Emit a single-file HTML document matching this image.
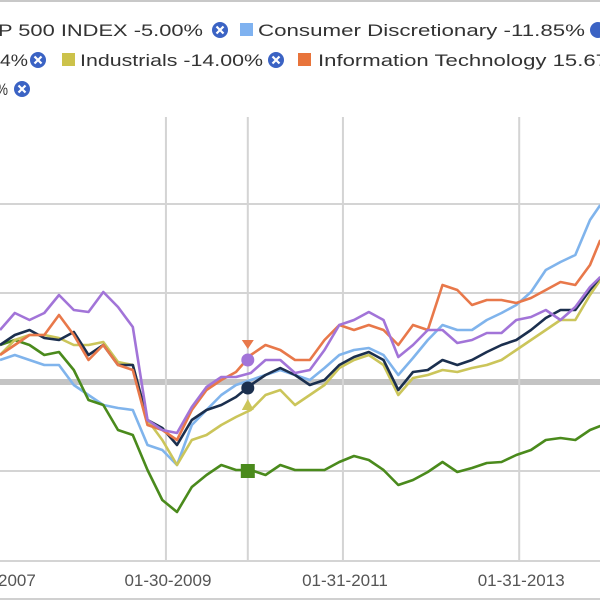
<!DOCTYPE html>
<html><head><meta charset="utf-8"><style>
html,body{margin:0;padding:0;background:#fff;}
svg{display:block;font-family:"Liberation Sans",Arial,sans-serif;}
</style></head><body>
<svg id="chart" width="600" height="600" viewBox="0 0 600 600">
  <line x1="0" y1="1" x2="600" y2="1" stroke="#c8c8c8" stroke-width="2"/>
  <g id="legend" font-size="17" fill="#333">
    <text x="-2" y="36" textLength="205" lengthAdjust="spacingAndGlyphs">P 500 INDEX -5.00%</text>
    <g><circle cx="220" cy="30" r="8" fill="#3b63c4"/><path d="M216.5 26.5l7 7M223.5 26.5l-7 7" stroke="#fff" stroke-width="2.2"/></g>
    <rect x="240" y="23" width="13" height="13" fill="#7fb2f0"/>
    <text x="258" y="36" textLength="327" lengthAdjust="spacingAndGlyphs">Consumer Discretionary -11.85%</text>
    <g><circle cx="598" cy="30" r="8" fill="#3b63c4"/></g>
    <text x="0" y="66" textLength="28" lengthAdjust="spacingAndGlyphs">4%</text>
    <g><circle cx="38" cy="60" r="8" fill="#3b63c4"/><path d="M34.5 56.5l7 7M41.5 56.5l-7 7" stroke="#fff" stroke-width="2.2"/></g>
    <rect x="62" y="53" width="13" height="13" fill="#ccc24a"/>
    <text x="80" y="66" textLength="183" lengthAdjust="spacingAndGlyphs">Industrials -14.00%</text>
    <g><circle cx="276" cy="60" r="8" fill="#3b63c4"/><path d="M272.5 56.5l7 7M279.5 56.5l-7 7" stroke="#fff" stroke-width="2.2"/></g>
    <rect x="298" y="53" width="13" height="13" fill="#e8743b"/>
    <text x="318" y="66" textLength="290" lengthAdjust="spacingAndGlyphs">Information Technology 15.67</text>
    <text x="-4" y="95" textLength="12" lengthAdjust="spacingAndGlyphs">%</text>
    <g><circle cx="22" cy="89" r="8" fill="#3b63c4"/><path d="M18.5 85.5l7 7M25.5 85.5l-7 7" stroke="#fff" stroke-width="2.2"/></g>
  </g>
  <g id="grid"></g>
  <g id="series"></g>
  <g id="xaxis"></g>
  <line x1="0" y1="599" x2="600" y2="599" stroke="#d0d0d0" stroke-width="2"/>
</svg>
<script>
// months since Mar 2007 (2-month steps)
const months = [0,2,4,6,8,10,12,14,16,18,20,22,24,26,28,30,32,34,36,38,40,42,44,46,48,50,52,54,56,58,60,62,64,66,68,70,72,74,76,78,80,81.4];
const purple = [52,69,62,69,87,72,70,90,75,55,-38,-48,-51,-25,-5,5,5,9,22,22,9,12,32,57,62,70,62,25,37,52,52,39,42,49,49,62,65,72,62,75,95,105];
const sp500 = [37,47,52,44,42,50,27,37,17,17,-38,-46,-63,-38,-28,-23,-15,-3,7,14,7,-3,2,17,25,30,22,-8,10,12,22,17,22,30,37,42,52,64,72,72,92,105];
const industrials = [27,42,47,47,44,37,37,40,20,17,-38,-58,-83,-58,-53,-43,-35,-28,-13,-8,-23,-13,-3,14,22,27,17,-13,4,7,12,10,14,17,22,32,42,52,62,62,87,102];
const infotech = [27,37,47,47,67,47,22,37,17,12,-43,-48,-58,-28,-8,2,10,27,37,32,22,22,42,57,52,57,52,37,57,52,97,92,77,82,82,79,84,92,100,97,117,142];
const consDisc = [22,27,22,17,17,-3,-13,-23,-26,-28,-63,-68,-83,-43,-28,-13,-3,2,7,12,7,2,14,27,32,34,27,7,24,42,57,52,52,62,69,77,90,112,120,127,162,177];
const green = [37,42,37,27,30,12,-18,-23,-48,-53,-88,-118,-130,-105,-93,-83,-88,-88,-93,-83,-88,-88,-88,-80,-74,-78,-88,-103,-98,-90,-80,-90,-86,-81,-80,-73,-68,-58,-56,-58,-48,-44];
const yTicks = [-89,0,89,178];
const xTickMonths = [22.5,46.5,70.4];
const xTickLabels = ["01-30-2009","01-31-2011","01-31-2013"];
const extraGridMonths = [33.6];
const markerMonth = 33.6;
const markerValues = [37,22,-6,-23,-89];

const NS="http://www.w3.org/2000/svg";
function x(m){return m*7.375;}
function y(v){return 382-v;}
function mk(tag,attrs,parent){const e=document.createElementNS(NS,tag);for(const k in attrs)e.setAttribute(k,attrs[k]);parent.appendChild(e);return e;}
const grid=document.getElementById('grid'), ser=document.getElementById('series'), xa=document.getElementById('xaxis');

yTicks.forEach(v=>{
  const l=mk('line',{x1:0,x2:600,y1:y(v),y2:y(v),stroke:v===0?'#c4c4c4':'#d4d4d4','stroke-width':v===0?6:2},grid);
  
  
});
xTickMonths.concat(extraGridMonths).forEach(m=>{
  const l=mk('line',{x1:x(m),x2:x(m),y1:117,y2:561,stroke:'#d4d4d4','stroke-width':2},grid);
  
  
});
const ax=mk('line',{x1:0,x2:600,y1:561,y2:561,stroke:'#d4d4d4','stroke-width':2},xa);


const t0=mk('text',{x:-2,y:586,'font-size':17,fill:'#555'},xa);t0.textContent='2007';


xTickMonths.forEach((m,i)=>{
  const t=mk('text',{x:x(m)+2,y:586,'font-size':17,fill:'#555','text-anchor':'middle'},xa);
  t.textContent=xTickLabels[i];
  
  
});

const series=[["consumer-discretionary-line",consDisc,"#80b4ec"],["green-line",green,"#4a8a1c"],["industrials-line",industrials,"#cbc55a"],["sp500-line",sp500,"#1b2f4e"],["info-tech-line",infotech,"#e8784a"],["purple-line",purple,"#a274d8"]];
series.forEach(s=>{
  const d=s[1].map((v,i)=>(i?'L':'M')+x(months[i]).toFixed(1)+' '+y(v)).join(' ');
  const p=mk('path',{d:d,fill:'none',stroke:s[2],'stroke-width':2.6,'stroke-linejoin':'round'},ser);
  
  
});
// hover markers
const mx=x(markerMonth);
const mcol=["#e8784a","#a274d8","#1b2f4e","#cbc55a","#4a8a1c"];
markerValues.forEach((v,i)=>{
  let e;
  if(i===0) e=mk('path',{d:`M${mx-6} ${y(v)-5}L${mx+6} ${y(v)-5}L${mx} ${y(v)+4}Z`,fill:mcol[i]},ser);
  else if(i===3) e=mk('path',{d:`M${mx-6} ${y(v)+5}L${mx+6} ${y(v)+5}L${mx} ${y(v)-6}Z`,fill:mcol[i]},ser);
  else if(i===4) e=mk('rect',{x:mx-7,y:y(v)-7,width:14,height:14,fill:mcol[i]},ser);
  else e=mk('circle',{cx:mx,cy:y(v),r:6.5,fill:mcol[i]},ser);
  
  
});
</script>
</body></html>
